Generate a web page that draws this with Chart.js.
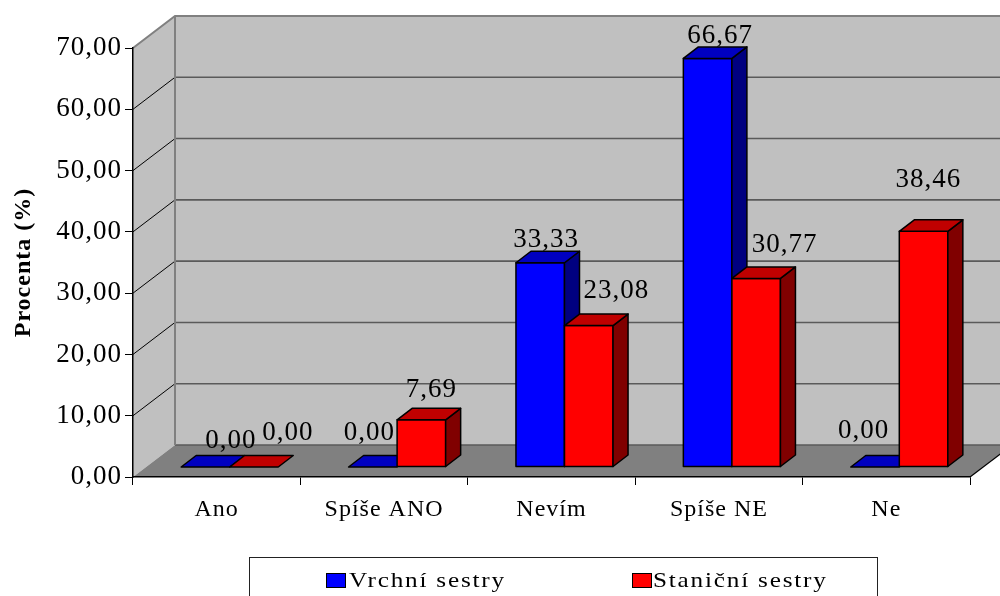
<!DOCTYPE html>
<html>
<head>
<meta charset="utf-8">
<script src="https://cdn.jsdelivr.net/npm/chart.js@4.4.1/dist/chart.umd.min.js"></script>
<style>
  html, body { margin: 0; padding: 0; background: #fff; }
  #wrap { position: relative; width: 1000px; height: 596px; overflow: hidden; }
  #chart { position: absolute; left: 0; top: 0; }
  .legend-box { position: absolute; left: 249px; top: 557px; width: 629px; height: 60px;
                border: 1px solid #222; box-sizing: border-box; }
  .swatch { position: absolute; top: 573px; width: 18px; height: 13px; border: 1px solid #000; }
  .legend-text { position: absolute; top: 568px; font: 21px "Liberation Serif", serif; line-height: 24px;
                 letter-spacing: 1.5px; transform: scaleX(1.2); transform-origin: left center;
                 white-space: nowrap; color: #000; }
</style>
</head>
<body>
<div id="wrap">
  <canvas id="chart" width="1000" height="596"></canvas>
  <div class="legend-box"></div>
  <div class="swatch" id="sw0" style="left:326px;"></div>
  <div class="legend-text" id="lt0" style="left:349px;"></div>
  <div class="swatch" id="sw1" style="left:632px;"></div>
  <div class="legend-text" id="lt1" style="left:653px;"></div>
</div>
<script>
// Survey answers, percent of respondents
const categories = ['Ano', 'Spíše ANO', 'Nevím', 'Spíše NE', 'Ne'];
const vrchniSestry = [0.00, 0.00, 33.33, 66.67, 0.00];
const stanicniSestry = [0.00, 7.69, 23.08, 30.77, 38.46];
const seriesNames = ['Vrchní sestry', 'Staniční sestry'];
const yAxisTitle = 'Procenta (%)';
const yMin = 0, yMax = 70, yStep = 10;

// Face colours per series: front, top, side
const faceColors = [
  { front: '#0000ff', top: '#0000c0', side: '#000080' },
  { front: '#ff0000', top: '#c00000', side: '#800000' }
];

// Small hand placement tweaks for the value labels (px), per series and category
const labelShift = [
  [[18, -3.5], [-11, -11.5], [-1.7, 0], [5, 0], [-19, -13.5]],
  [[26.5, -11.5], [2.6, -7.5], [20, -12], [21, -11], [-2.6, -29]]
];

const FONT = '"Liberation Serif", "Times New Roman", serif';
const WALL = { dx: 42, dy: -32 };       // depth of the plot box
const FRONT = { dx: 13, dy: -10 };      // bar front plane inside the box
const DEPTH = { dx: 15, dy: -11.5 };    // bar thickness

const fmt = v => Number(v).toFixed(2).replace('.', ',');

// legend
seriesNames.forEach((n, i) => {
  document.getElementById('lt' + i).textContent = n;
  document.getElementById('sw' + i).style.background = faceColors[i].front;
});

function poly(ctx, pts, fill) {
  ctx.beginPath();
  ctx.moveTo(pts[0][0], pts[0][1]);
  for (let k = 1; k < pts.length; k++) ctx.lineTo(pts[k][0], pts[k][1]);
  ctx.closePath();
  ctx.fillStyle = fill;
  ctx.fill();
  ctx.stroke();
}

const scene3d = {
  id: 'scene3d',
  beforeDraw(chart) {
    const ctx = chart.ctx;
    ctx.letterSpacing = '1px';
    const { left, right, top, bottom } = chart.chartArea;
    const yScale = chart.scales.y;
    const { dx, dy } = WALL;
    ctx.save();
    // side wall and back wall
    ctx.fillStyle = '#c0c0c0';
    ctx.beginPath();
    ctx.moveTo(left, top); ctx.lineTo(left + dx, top + dy);
    ctx.lineTo(left + dx, bottom + dy); ctx.lineTo(left, bottom);
    ctx.closePath(); ctx.fill();
    ctx.fillRect(left + dx, top + dy, right - left, bottom - top);
    // floor
    ctx.fillStyle = '#808080';
    ctx.beginPath();
    ctx.moveTo(left, bottom); ctx.lineTo(right, bottom);
    ctx.lineTo(right + dx, bottom + dy); ctx.lineTo(left + dx, bottom + dy);
    ctx.closePath(); ctx.fill();
    // gridlines
    yScale.ticks.forEach(t => {
      const y = yScale.getPixelForValue(t.value);
      ctx.strokeStyle = '#5a5a5a';
      ctx.lineWidth = 1.6;
      ctx.beginPath();
      ctx.moveTo(left + dx, y + dy); ctx.lineTo(right + dx, y + dy);
      ctx.stroke();
      if (t.value > yMin && t.value < yMax) {
        ctx.strokeStyle = '#000';
        ctx.lineWidth = 1;
        ctx.beginPath();
        ctx.moveTo(left, y); ctx.lineTo(left + dx, y + dy);
        ctx.stroke();
      }
    });
    // box edges
    ctx.strokeStyle = '#808080';
    ctx.lineWidth = 2;
    ctx.beginPath();
    ctx.moveTo(left, top); ctx.lineTo(left + dx, top + dy); ctx.lineTo(right + dx, top + dy);
    ctx.moveTo(left + dx, top + dy); ctx.lineTo(left + dx, bottom + dy);
    ctx.stroke();
    ctx.strokeStyle = '#000';
    ctx.lineWidth = 1.2;
    ctx.beginPath();
    ctx.moveTo(right, bottom); ctx.lineTo(right + dx, bottom + dy);
    ctx.stroke();
    ctx.restore();
  },
  beforeDatasetDraw() {
    return false; // bars are drawn as blocks below
  },
  afterDatasetsDraw(chart) {
    const ctx = chart.ctx;
    ctx.save();
    ctx.strokeStyle = '#000';
    ctx.lineWidth = 1.5;
    ctx.lineJoin = 'round';
    const metas = chart.data.datasets.map((_, d) => chart.getDatasetMeta(d));
    const labels = [];
    categories.forEach((_, i) => {
      metas.forEach((meta, d) => {
        const el = meta.data[i];
        const { x, y, base, width } = el.getProps(['x', 'y', 'base', 'width'], true);
        const c = faceColors[d];
        const x0 = x - width / 2 + FRONT.dx, x1 = x + width / 2 + FRONT.dx;
        const yt = y + FRONT.dy, yb = base + FRONT.dy;
        if (yb - yt > 0.5) {
          poly(ctx, [[x0, yt], [x1, yt], [x1, yb], [x0, yb]], c.front);
          poly(ctx, [[x1, yt], [x1 + DEPTH.dx, yt + DEPTH.dy], [x1 + DEPTH.dx, yb + DEPTH.dy], [x1, yb]], c.side);
        }
        poly(ctx, [[x0, yt], [x0 + DEPTH.dx, yt + DEPTH.dy], [x1 + DEPTH.dx, yt + DEPTH.dy], [x1, yt]], c.top);
        const s = labelShift[d][i];
        labels.push({
          text: fmt(chart.data.datasets[d].data[i]),
          x: x + FRONT.dx + DEPTH.dx / 2 + s[0],
          y: yt + DEPTH.dy - 4 + s[1]
        });
      });
    });
    ctx.fillStyle = '#000';
    ctx.font = '27px ' + FONT;
    ctx.textAlign = 'center';
    ctx.textBaseline = 'alphabetic';
    labels.forEach(l => ctx.fillText(l.text, l.x, l.y));
    ctx.restore();
  }
};

new Chart(document.getElementById('chart'), {
  type: 'bar',
  data: {
    labels: categories,
    datasets: [
      { label: seriesNames[0], data: vrchniSestry, backgroundColor: faceColors[0].front },
      { label: seriesNames[1], data: stanicniSestry, backgroundColor: faceColors[1].front }
    ]
  },
  options: {
    responsive: false,
    animation: false,
    devicePixelRatio: 1,
    layout: { padding: { left: 0, top: 48, right: 30, bottom: 0 } },
    datasets: { bar: { categoryPercentage: 0.58, barPercentage: 1 } },
    plugins: { legend: { display: false }, tooltip: { enabled: false } },
    scales: {
      x: {
        grid: { drawOnChartArea: false, drawTicks: true, tickLength: 8, color: '#000', offset: true },
        border: { display: true, color: '#000', width: 1.5 },
        ticks: { font: { family: FONT, size: 24 }, color: '#000', padding: 10 },
        afterFit(s) { s.height = 119; }
      },
      y: {
        min: yMin, max: yMax,
        ticks: { stepSize: yStep, callback: v => fmt(v), font: { family: FONT, size: 27 }, color: '#000', padding: 3 },
        grid: { drawOnChartArea: false, tickLength: 8, color: '#000' },
        border: { display: true, color: '#000', width: 1.5 },
        title: {
          display: true, text: yAxisTitle, color: '#000',
          font: { family: FONT, size: 24, weight: 'bold' },
          padding: { top: 9, bottom: 0 }
        },
        afterFit(s) { s.width = 133; }
      }
    }
  },
  plugins: [scene3d]
});
</script>
</body>
</html>
